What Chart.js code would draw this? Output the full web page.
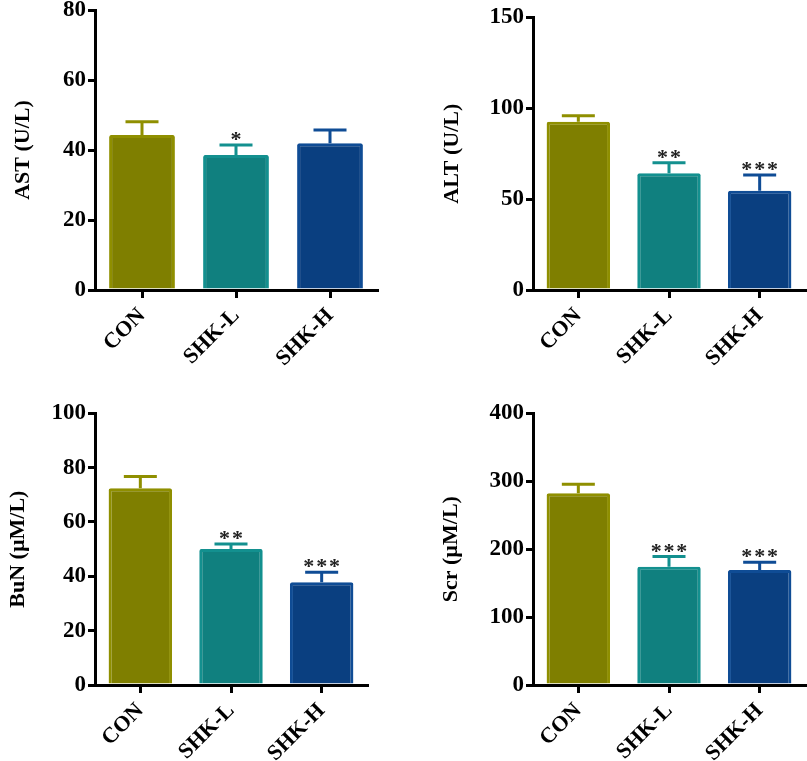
<!DOCTYPE html>
<html>
<head>
<meta charset="utf-8">
<script src="https://cdn.jsdelivr.net/npm/chart.js@4.4.1/dist/chart.umd.min.js"></script>
<style>
  html, body { margin: 0; padding: 0; background: #fff; overflow: hidden; }
  .panel { position: absolute; }
</style>
</head>
<body>
<div class="panel" style="left:0;top:-10px;"><canvas id="astChart" width="400" height="390"></canvas></div>
<div class="panel" style="left:400px;top:0;"><canvas id="altChart" width="407" height="380"></canvas></div>
<div class="panel" style="left:0;top:380px;"><canvas id="bunChart" width="400" height="381"></canvas></div>
<div class="panel" style="left:400px;top:380px;"><canvas id="scrChart" width="407" height="381"></canvas></div>
<script>
// groups
var categories = ["CON", "SHK-L", "SHK-H"];

// AST (U/L)
var astMean = [44.3, 38.6, 41.9];
var astErr = [3.8, 2.8, 3.8];
var astStars = ["", "*", ""];
var astTicks = [0, 20, 40, 60, 80];

// ALT (U/L)
var altMean = [92.6, 64.2, 54.6];
var altErr = [3.3, 5.8, 8.7];
var altStars = ["", "**", "***"];
var altTicks = [0, 50, 100, 150];

// BuN (uM/L)
var bunMean = [72.4, 50.1, 37.8];
var bunErr = [4.3, 1.8, 3.7];
var bunStars = ["", "**", "***"];
var bunTicks = [0, 20, 40, 60, 80, 100];

// Scr (uM/L)
var scrMean = [282.3, 174.2, 169.4];
var scrErr = [13.3, 14.8, 11.3];
var scrStars = ["", "***", "***"];
var scrTicks = [0, 100, 200, 300, 400];

var fillColors = ["#7f7f00", "#10807f", "#0a3f80"];
var edgeColors = ["#8f8f00", "#13908f", "#0f4c95"];
var serif = '"Liberation Serif", "Times New Roman", serif';

Chart.defaults.font.family = serif;
Chart.defaults.color = "#000";

// draws the upper error bar and the significance stars
var errorBars = {
  id: "errorBars",
  afterDatasetsDraw: function(chart, args, opts) {
    var ctx = chart.ctx;
    var meta = chart.getDatasetMeta(0);
    var y = chart.scales.y;
    ctx.save();
    meta.data.forEach(function(bar, i) {
      var top = y.getPixelForValue(opts.mean[i]);
      var end = y.getPixelForValue(opts.mean[i] + opts.err[i]);
      ctx.strokeStyle = edgeColors[i];
      ctx.lineWidth = 3;
      ctx.beginPath();
      ctx.moveTo(bar.x, top);
      ctx.lineTo(bar.x, end);
      ctx.moveTo(bar.x - 16.5, end);
      ctx.lineTo(bar.x + 16.5, end);
      ctx.stroke();
      if (opts.stars[i]) {
        ctx.fillStyle = "#222";
        ctx.font = "bold 22px " + serif;
        ctx.textAlign = "center";
        ctx.textBaseline = "alphabetic";
        ctx.fillText(opts.stars[i].split("").join("\u200a"), bar.x, end + 1);
      }
    });
    ctx.restore();
  }
};

function makeChart(id, title, mean, err, stars, ticks, box) {
  var ctx = document.getElementById(id).getContext("2d");
  return new Chart(ctx, {
    type: "bar",
    data: {
      labels: categories,
      datasets: [{
        data: mean,
        backgroundColor: fillColors,
        borderColor: edgeColors,
        borderWidth: 3,
        borderSkipped: "start",
        borderRadius: 2,
        barPercentage: 0.7,
        categoryPercentage: 1
      }]
    },
    options: {
      responsive: false,
      animation: false,
      layout: {
        autoPadding: false,
        padding: { left: box.left, top: box.top, right: box.right, bottom: 0 }
      },
      plugins: {
        legend: { display: false },
        tooltip: { enabled: false },
        errorBars: { mean: mean, err: err, stars: stars }
      },
      scales: {
        x: {
          grid: { display: true, drawOnChartArea: false, drawTicks: true, offset: false,
                  color: "#000", lineWidth: 3, tickLength: 8 },
          border: { display: true, color: "#000", width: 3 },
          ticks: { autoSkip: false, minRotation: 45, maxRotation: 45, padding: 5,
                   font: { size: 22, weight: "bold" }, color: "#000" },
          afterFit: function(s) { s.height = box.xh; }
        },
        y: {
          min: ticks[0],
          max: ticks[ticks.length - 1],
          afterBuildTicks: function(s) { s.ticks = ticks.map(function(v) { return { value: v }; }); },
          grid: { display: true, drawOnChartArea: false, drawTicks: true,
                  color: "#000", lineWidth: 3, tickLength: 7 },
          border: { display: true, color: "#000", width: 3 },
          ticks: { padding: 2, font: { size: 23, weight: "bold" }, color: "#000" },
          title: { display: true, text: title, padding: 0,
                   font: { size: 22, weight: "bold" }, color: "#000" },
          afterFit: function(s) { s.width = box.yw; }
        }
      }
    },
    plugins: [errorBars]
  });
}

makeChart("astChart", "AST (U/L)", astMean, astErr, astStars, astTicks,
  { left: 10, top: 20, right: 23, yw: 85, xh: 90 });
makeChart("altChart", "ALT (U/L)", altMean, altErr, altStars, altTicks,
  { left: 39.5, top: 17.3, right: 2, yw: 93.5, xh: 90 });
makeChart("bunChart", "BuN (\u00b5M/L)", bunMean, bunErr, bunStars, bunTicks,
  { left: 5, top: 33.3, right: 33, yw: 90, xh: 76 });
makeChart("scrChart", "Scr (\u00b5M/L)", scrMean, scrErr, scrStars, scrTicks,
  { left: 38.5, top: 33.3, right: 2, yw: 94.5, xh: 76 });
</script>
</body>
</html>
